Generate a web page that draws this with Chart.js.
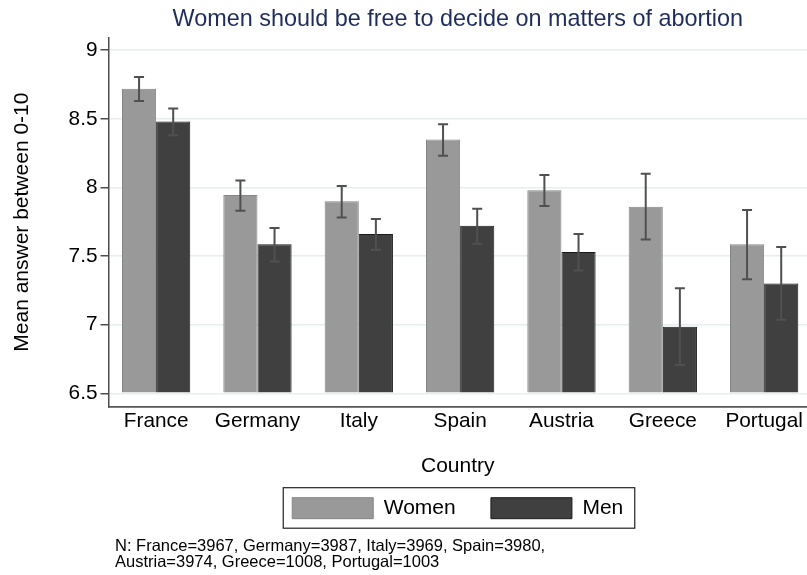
<!DOCTYPE html>
<html>
<head>
<meta charset="utf-8">
<script src="https://cdn.jsdelivr.net/npm/chart.js@4/dist/chart.umd.min.js"></script>
<style>
  html, body { margin: 0; padding: 0; background: #fff; }
  #chart { display: block; }
</style>
</head>
<body>
<canvas id="chart" width="807" height="575"></canvas>
<script>
// Data
const countries = ['France', 'Germany', 'Italy', 'Spain', 'Austria', 'Greece', 'Portugal'];
const women = [8.72, 7.945, 7.90, 8.35, 7.98, 7.86, 7.585];
const men = [8.48, 7.585, 7.66, 7.72, 7.53, 6.985, 7.30];
// 95% confidence intervals
const womenLow = [8.63, 7.83, 7.78, 8.23, 7.865, 7.62, 7.33];
const womenHigh = [8.805, 8.05, 8.01, 8.46, 8.09, 8.10, 7.835];
const menLow = [8.38, 7.46, 7.545, 7.59, 7.395, 6.705, 7.035];
const menHigh = [8.575, 7.705, 7.77, 7.845, 7.66, 7.265, 7.565];
const yTicks = [6.5, 7, 7.5, 8, 8.5, 9];
const yTickLabels = ['6.5', '7', '7.5', '8', '8.5', '9'];
const noteLines = [
  'N: France=3967, Germany=3987, Italy=3969, Spain=3980,',
  'Austria=3974, Greece=1008, Portugal=1003'
];

Chart.defaults.font.family = "'Liberation Sans', Arial, Helvetica, sans-serif";
Chart.defaults.color = '#000';

// Draw the confidence interval whiskers on top of each bar
const errorBars = {
  id: 'errorBars',
  afterDatasetsDraw(chart) {
    const ctx = chart.ctx;
    const y = chart.scales.y;
    const ranges = [[womenLow, womenHigh], [menLow, menHigh]];
    ctx.save();
    ctx.strokeStyle = '#505050';
    ctx.lineWidth = 2;
    chart.data.datasets.forEach((ds, d) => {
      const meta = chart.getDatasetMeta(d);
      meta.data.forEach((bar, i) => {
        const top = y.getPixelForValue(ranges[d][1][i]);
        const bot = y.getPixelForValue(ranges[d][0][i]);
        ctx.beginPath();
        ctx.moveTo(bar.x, top);
        ctx.lineTo(bar.x, bot);
        ctx.moveTo(bar.x - 5, top);
        ctx.lineTo(bar.x + 5, top);
        ctx.moveTo(bar.x - 5, bot);
        ctx.lineTo(bar.x + 5, bot);
        ctx.stroke();
      });
    });
    ctx.restore();
  }
};

// Frame around the legend, plus the sample size note
const extras = {
  id: 'extras',
  afterDraw(chart) {
    const ctx = chart.ctx;
    const hb = chart.legend.legendHitBoxes;
    ctx.save();
    if (hb && hb.length) {
      const last = hb[hb.length - 1];
      const left = hb[0].left - 9;
      const right = last.left + last.width + 11.5;
      const top = hb[0].top - 10;
      const bottom = hb[0].top + 21 + 9.5;
      ctx.strokeStyle = '#222';
      ctx.lineWidth = 1.2;
      ctx.strokeRect(left, top, right - left, bottom - top);
    }
    ctx.fillStyle = '#000';
    ctx.font = "16.5px 'Liberation Sans', Arial, sans-serif";
    ctx.textBaseline = 'alphabetic';
    noteLines.forEach((line, i) => ctx.fillText(line, 115, 551 + i * 15.5));
    ctx.restore();
  }
};

const ctx = document.getElementById('chart').getContext('2d');
new Chart(ctx, {
  type: 'bar',
  data: {
    datasets: [{
      label: 'Women',
      data: women.map((v, i) => ({ x: i, y: v })),
      backgroundColor: '#999999',
      borderColor: '#858585',
      borderWidth: 1,
      base: 6.5
    }, {
      label: 'Men',
      data: men.map((v, i) => ({ x: i, y: v })),
      backgroundColor: '#404040',
      borderColor: '#1a1a1a',
      borderWidth: 1,
      base: 6.5
    }]
  },
  options: {
    responsive: false,
    animation: false,
    devicePixelRatio: 1,
    categoryPercentage: 0.674,
    barPercentage: 1,
    layout: { padding: { left: 0, right: 0, top: 0, bottom: 46.3 } },
    scales: {
      x: {
        type: 'linear',
        min: -0.47,
        max: 6.423,
        offset: false,
        afterBuildTicks: function(scale) {
          scale.ticks = countries.map((c, i) => ({ value: i }));
        },
        afterFit: function(scale) {
          scale.height = 55.8;
        },
        grid: { display: false, drawTicks: false },
        border: { display: true, color: '#555', width: 1.8 },
        ticks: {
          padding: 2,
          maxRotation: 0,
          autoSkip: false,
          font: { size: 20.8 },
          callback: function(value) {
            return countries[value];
          }
        },
        title: {
          display: true,
          text: 'Country',
          font: { size: 21 },
          padding: { top: 0, bottom: -16 }
        }
      },
      y: {
        min: 6.402,
        max: 9.092,
        afterBuildTicks: function(scale) {
          scale.ticks = yTicks.map(v => ({ value: v }));
        },
        afterFit: function(scale) {
          scale.width = 108.5;
        },
        grid: {
          color: '#e6eef0',
          lineWidth: 1.5,
          tickColor: '#4d4d4d',
          tickLength: 8,
          tickWidth: 1.5
        },
        border: { display: true, color: '#4d4d4d', width: 1.5 },
        ticks: {
          padding: 3,
          font: { size: 20.8 },
          callback: function(value, index) {
            return yTickLabels[index];
          }
        },
        title: {
          display: true,
          text: 'Mean answer between 0-10',
          font: { size: 21 },
          padding: { top: 10, bottom: 0 }
        }
      }
    },
    plugins: {
      title: {
        display: true,
        text: 'Women should be free to decide on matters of abortion',
        fullSize: false,
        color: '#1f2d5c',
        font: { size: 23.4, weight: 'normal' },
        padding: { top: 5.2, bottom: 4.3 }
      },
      legend: {
        position: 'bottom',
        fullSize: false,
        labels: {
          boxWidth: 81,
          boxHeight: 21,
          padding: 35.2,
          font: { size: 21 },
          color: '#000'
        }
      },
      tooltip: { enabled: false }
    }
  },
  plugins: [errorBars, extras]
});
</script>
</body>
</html>
